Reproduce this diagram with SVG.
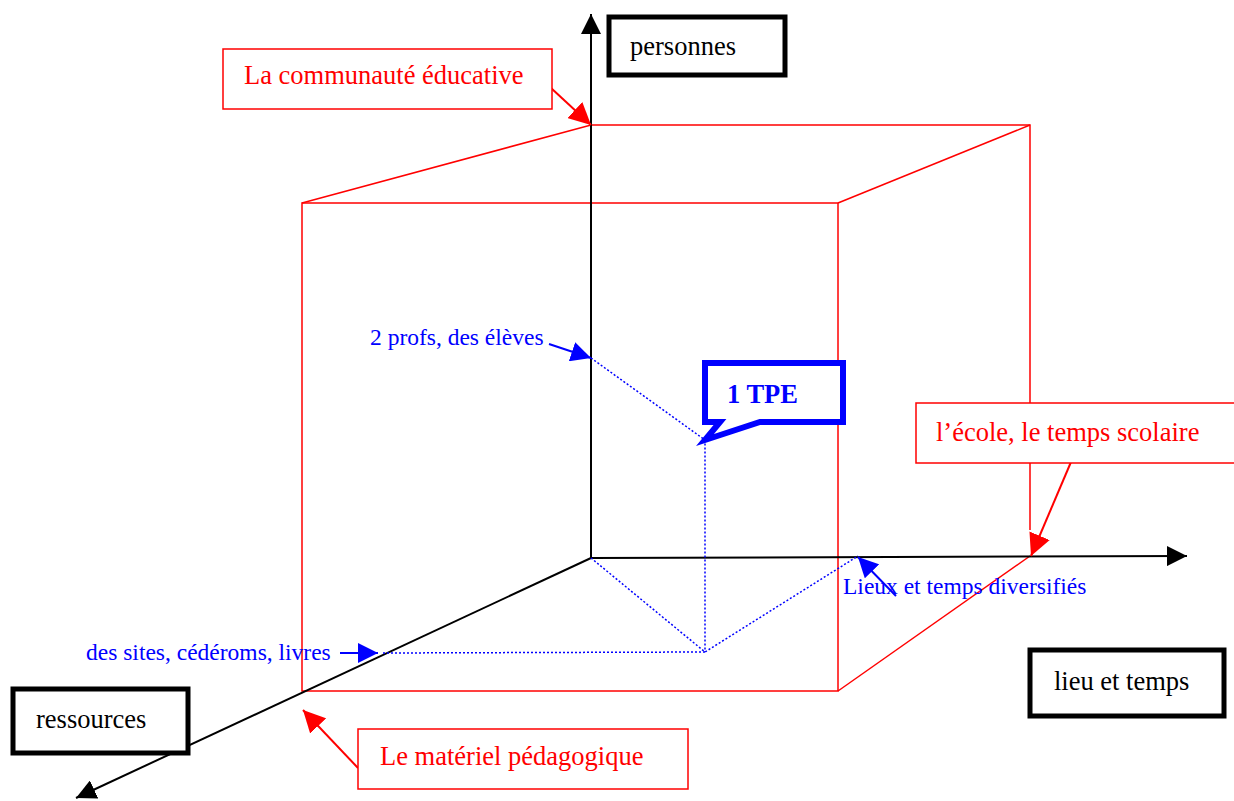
<svg xmlns="http://www.w3.org/2000/svg" width="1234" height="801" viewBox="0 0 1234 801">
<style>
text{font-size:26.5px}
.blk{fill:#fff;stroke:#000;stroke-width:5}
.red{fill:#fff;stroke:#f00;stroke-width:1.5}
.rt{fill:#f00}
.bt{fill:#00f;font-size:23.5px}
.cube{fill:none;stroke:#f00;stroke-width:1.5}
.dot{fill:none;stroke:#00f;stroke-width:1.5;stroke-dasharray:2 2}
</style>
<defs>
<marker id="ak" viewBox="0 0 10 10" refX="10" refY="5" markerWidth="20" markerHeight="20" markerUnits="userSpaceOnUse" orient="auto"><path d="M0,0L10,5L0,10z" fill="#000"/></marker>
<marker id="ar" viewBox="0 0 10 10" refX="10" refY="5" markerWidth="22" markerHeight="22" markerUnits="userSpaceOnUse" orient="auto"><path d="M0,0L10,5L0,10z" fill="#f00"/></marker>
<marker id="ab" viewBox="0 0 10 10" refX="10" refY="5" markerWidth="20" markerHeight="20" markerUnits="userSpaceOnUse" orient="auto"><path d="M0,0L10,5L0,10z" fill="#00f"/></marker>
</defs>
<rect width="1234" height="801" fill="#fff"/>
<g id="cube">
<rect class="cube" x="302" y="203" width="536" height="488"/>
<polyline class="cube" points="302,203 591,125 1030,125 1030,530"/>
<line class="cube" x1="838" y1="203" x2="1030" y2="125"/>
<line class="cube" x1="838" y1="691" x2="1030" y2="556"/>
</g>
<g id="connectors">
<line x1="591" y1="558" x2="591" y2="14" stroke="#000" stroke-width="2" marker-end="url(#ak)"/>
<line x1="591" y1="558" x2="1187" y2="556" stroke="#000" stroke-width="2" marker-end="url(#ak)"/>
<line x1="591" y1="558" x2="76" y2="798" stroke="#000" stroke-width="2" marker-end="url(#ak)"/>
<polyline class="dot" points="591,358 705,440 705,652"/>
<polyline class="dot" points="591,558 705,652 858,556"/>
<line class="dot" x1="705" y1="652" x2="383" y2="653"/>
<line x1="551" y1="88" x2="591" y2="125" stroke="#f00" stroke-width="2" marker-end="url(#ar)"/>
<line x1="1071" y1="462" x2="1031" y2="556" stroke="#f00" stroke-width="2" marker-end="url(#ar)"/>
<line x1="358" y1="768" x2="303" y2="710" stroke="#f00" stroke-width="2" marker-end="url(#ar)"/>
<line x1="549" y1="344" x2="591" y2="358" stroke="#00f" stroke-width="2" marker-end="url(#ab)"/>
<line x1="340" y1="653" x2="378" y2="653" stroke="#00f" stroke-width="2" marker-end="url(#ab)"/>
<line x1="896" y1="596" x2="858" y2="557" stroke="#00f" stroke-width="2" marker-end="url(#ab)"/>
</g>
<g font-family="'Liberation Serif', 'DejaVu Serif', serif">
<g id="personnes"><rect class="blk" x="609" y="17" width="176" height="58"/><text x="630" y="55">personnes</text></g>
<g id="lieu"><rect class="blk" x="1030" y="650" width="194" height="66"/><text x="1054" y="690">lieu et temps</text></g>
<g id="ressources"><rect class="blk" x="13" y="689" width="175" height="64"/><text x="36" y="728">ressources</text></g>
<g id="communaute"><rect class="red" x="223" y="49" width="329" height="60"/><text class="rt" x="244" y="84">La communauté éducative</text></g>
<g id="ecole"><rect class="red" x="916" y="403" width="330" height="60"/><text class="rt" x="936" y="441">l’école, le temps scolaire</text></g>
<g id="materiel"><rect class="red" x="358" y="729" width="330" height="60"/><text class="rt" x="380" y="765">Le matériel pédagogique</text></g>
<g id="profs"><text class="bt" x="370" y="345">2 profs, des élèves</text></g>
<g id="sites"><text class="bt" x="86" y="660">des sites, cédéroms, livres</text></g>
<g id="lieux"><text class="bt" x="843" y="594">Lieux et temps diversifiés</text></g>
<g id="tpe">
<path d="M705,363H843V422H760L705,440L720,422H705Z" fill="#fff" stroke="#00f" stroke-width="6" stroke-linejoin="miter"/>
<text x="727" y="403" font-size="25" font-weight="bold" fill="#00f">1 TPE</text>
</g>
</g>
</svg>
